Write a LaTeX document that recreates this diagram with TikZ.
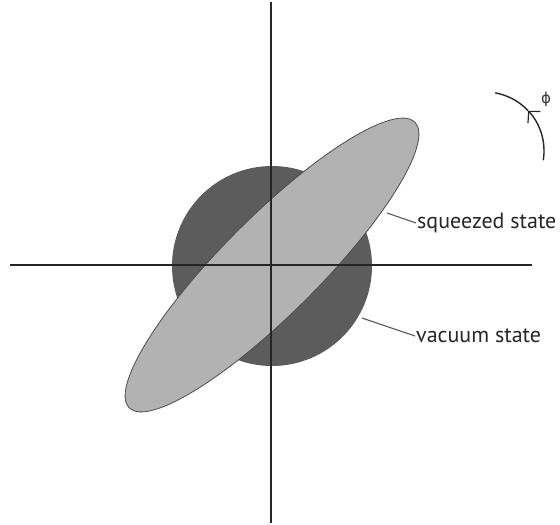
\documentclass[tikz,border=0pt]{standalone}
\usepackage{fontspec}
\setmainfont{PT Sans}
\newfontfamily\symfont{DejaVu Sans}
\usetikzlibrary{arrows.meta}
\begin{document}
\begin{tikzpicture}[x=1pt,y=1pt,
  axis/.style={line width=2.8pt, draw=black!85},
  vacfill/.style={fill=black!64},
  sqfill/.style={fill=black!30, draw=black!70, line width=0.8pt},
  leader/.style={draw=black!65, line width=1.1pt},
  lbl/.style={text=black!85, font=\fontsize{22}{25}\selectfont, inner sep=1pt, anchor=west},
  rot/.style={draw=black!85, line width=1.4pt},
]
\useasboundingbox (0,0) rectangle (560,-525);
% vacuum state circle
\fill[vacfill] (272,-266) circle[radius=100];
% squeezed state ellipse
\filldraw[sqfill, rotate around={45:(272,-265)}] (272,-265) ellipse[x radius=202, y radius=48.5];
% axes
\coordinate (xl) at (10,-265);
\coordinate (xr) at (532,-265);
\coordinate (yt) at (271,-2);
\coordinate (yb) at (271,-523);
\draw[axis] (xl) -- (xr);
\draw[axis] (yt) -- (yb);
% labels
\node[lbl] (sq) at (416,-223) {squeezed state};
\coordinate (sqp) at (387,-213);
\draw[leader] (sqp) -- (sq.west);
\node[lbl] (vac) at (415,-336) {vacuum state};
\coordinate (vacp) at (362,-318);
\draw[leader] (vacp) -- (vac.west);
% rotation arrow
\coordinate (rc) at (485,-151);
\draw[rot, -{Straight Barb[length=8pt, width=17pt, line width=1.2pt]}] (rc) ++(-9:59) arc[start angle=-9, end angle=43, radius=59];
\draw[rot] (rc) ++(43:59) arc[start angle=43, end angle=80, radius=59];
\node[font=\symfont\fontsize{15}{15}\selectfont, text=black!80] (phi) at (546,-99) {ϕ};
\end{tikzpicture}
\end{document}
